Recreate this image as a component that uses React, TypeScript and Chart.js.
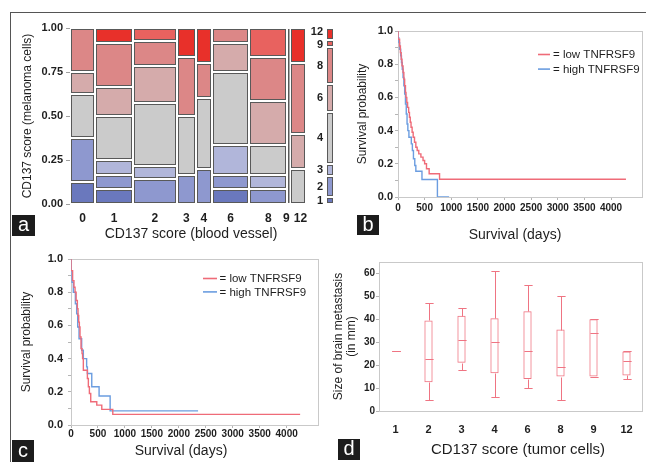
import React, { useEffect, useRef } from "react";
import { Chart, registerables } from "chart.js";

Chart.register(...registerables);

const FONT = "'Liberation Sans', Arial, Helvetica, sans-serif";
const INK = "#1e1e1e";
const W = 646;
const H = 462;

// ---------------- Panel a : mosaic ----------------
const vesselScores = ["0", "1", "2", "3", "4", "6", "8", "9", "12"];
const melanomaScores = ["1", "2", "3", "4", "6", "8", "9", "12"];
// counts of melanoma-cell score per blood-vessel score column
const melScore1 = [1, 1, 0, 0, 0, 1, 0, 0, 0];
const melScore2 = [2, 1, 2, 1, 1, 1, 1, 0, 0];
const melScore3 = [0, 1, 1, 0, 0, 2, 1, 0, 0];
const melScore4 = [2, 3, 5, 2, 2, 5, 2, 0, 1];
const melScore6 = [1, 2, 3, 0, 0, 2, 3, 0, 1];
const melScore8 = [2, 3, 2, 2, 1, 1, 3, 0, 2];
const melScore9 = [0, 0, 1, 0, 0, 0, 2, 0, 0];
const melScore12 = [0, 1, 0, 1, 1, 0, 0, 1, 1];
const mosaicYTicks = [0, 0.25, 0.5, 0.75, 1];

// ---------------- Panels b, c : Kaplan-Meier ----------------
const bLowDays = [0, 30, 45, 60, 75, 95, 110, 125, 140, 150, 165, 180, 200, 215, 230, 245, 265, 285, 310, 335, 360, 390, 430, 470, 500, 535, 585, 780, 1620, 4280];
const bLowSurv = [1, 0.95, 0.91, 0.87, 0.83, 0.79, 0.75, 0.71, 0.67, 0.63, 0.6, 0.57, 0.54, 0.51, 0.48, 0.45, 0.42, 0.39, 0.36, 0.33, 0.3, 0.28, 0.26, 0.24, 0.22, 0.2, 0.17, 0.14, 0.107, 0.107];
const bHighDays = [0, 15, 30, 50, 65, 80, 95, 110, 125, 140, 155, 170, 185, 205, 250, 270, 290, 315, 335, 450, 740, 960];
const bHighSurv = [1, 0.96, 0.93, 0.89, 0.85, 0.81, 0.77, 0.72, 0.67, 0.62, 0.56, 0.5, 0.44, 0.4, 0.36, 0.32, 0.28, 0.23, 0.19, 0.155, 0.105, 0];

const cLowDays = [0, 30, 55, 75, 95, 118, 130, 143, 155, 167, 186, 205, 215, 229, 304, 322, 341, 366, 478, 571, 775, 943, 4250];
const cLowSurv = [1, 0.93, 0.87, 0.83, 0.8, 0.75, 0.7, 0.66, 0.62, 0.59, 0.53, 0.46, 0.43, 0.4, 0.33, 0.28, 0.23, 0.19, 0.14, 0.12, 0.094, 0.064, 0.064];
const cHighDays = [0, 19, 43, 81, 105, 124, 149, 198, 229, 290, 304, 385, 521, 726, 1625, 2357];
const cHighSurv = [1, 0.93, 0.86, 0.8, 0.73, 0.67, 0.59, 0.52, 0.45, 0.4, 0.35, 0.31, 0.23, 0.175, 0.085, 0.085];

const survXTicks = [0, 500, 1000, 1500, 2000, 2500, 3000, 3500, 4000];
const survYTicks = [0, 0.1, 0.2, 0.3, 0.4, 0.5, 0.6, 0.7, 0.8, 0.9, 1];

// ---------------- Panel d : box plot ----------------
const tumorScores = ["1", "2", "3", "4", "6", "8", "9", "12"];
const sizeMin = [26, 5, 18, 6, 10, 5, 15, 14];
const sizeQ1 = [26, 12.5, 21, 16.5, 14, 15, 15, 15.5];
const sizeMedian = [26, 22.5, 31, 30, 26, 19, 34, 22];
const sizeQ3 = [26, 39.5, 41.5, 40.5, 43.5, 35.5, 40, 26];
const sizeMax = [26, 47, 45, 61, 55, 50, 40, 26];
const sizeYTicks = [0, 5, 10, 15, 20, 25, 30, 35, 40, 45, 50, 55, 60, 65];

// ---------------- styles ----------------
const levelColors = ["#6a78bd", "#8e98cf", "#b1b6da", "#cbcbcb", "#d5abab", "#dc8787", "#e8625f", "#e8302a"];
const RED = "#ef6b78";
const BLUE = "#6b9de0";
const BOX = "#ef7482";

const melSeries = [melScore1, melScore2, melScore3, melScore4, melScore6, melScore8, melScore9, melScore12];
const colTotals = vesselScores.map((_, j) => melSeries.reduce((s, a) => s + a[j], 0));
const grandTotal = colTotals.reduce((s, v) => s + v, 0);

const tickFont = (size: number, weight: any = "bold") => ({ family: FONT, size, weight });

// push apart values closer than minGap (keeps order)
function spread(vals: number[], minGap: number) {
  const pos = vals.slice();
  for (let it = 0; it < 30; it++) {
    for (let k = 1; k < pos.length; k++) {
      const d = Math.abs(pos[k] - pos[k - 1]);
      if (d < minGap) {
        const push = (minGap - d) / 2;
        const dir = pos[k] >= pos[k - 1] ? 1 : -1;
        pos[k - 1] -= push * dir;
        pos[k] += push * dir;
      }
    }
  }
  return pos;
}

const mosaicPlugin = {
  id: "mosaic",
  beforeDatasetsDraw(chart: any) {
    const { ctx, chartArea, scales } = chart;
    const x = scales.x;
    const y = scales.y;
    ctx.save();
    ctx.lineWidth = 1;
    ctx.strokeStyle = "#595959";
    let cum = 0;
    colTotals.forEach((n, j) => {
      const xl = Math.round(x.getPixelForValue(cum)) + 1;
      const xr = Math.round(x.getPixelForValue(cum + n)) - 1;
      let f = 0;
      melSeries.forEach((arr, k) => {
        const c = arr[j];
        if (!c) return;
        const f1 = f + c / n;
        const yb = Math.round(y.getPixelForValue(f)) - 1;
        const yt = Math.round(y.getPixelForValue(f1)) + 1;
        ctx.fillStyle = levelColors[k];
        ctx.fillRect(xl, yt, xr - xl, yb - yt);
        ctx.strokeRect(xl + 0.5, yt + 0.5, Math.max(xr - xl - 1, 0.5), yb - yt - 1);
        f = f1;
      });
      cum += n;
    });
    // marginal distribution bar on the right
    const bx0 = Math.round(chartArea.right) + 21;
    const bx1 = bx0 + 6;
    const levelTotals = melSeries.map((a) => a.reduce((s, v) => s + v, 0));
    let f = 0;
    const mids: number[] = [];
    levelTotals.forEach((c, k) => {
      const f1 = f + c / grandTotal;
      const yb = Math.round(y.getPixelForValue(f)) - 1;
      const yt = Math.round(y.getPixelForValue(f1)) + 1;
      ctx.fillStyle = levelColors[k];
      ctx.fillRect(bx0, yt, bx1 - bx0, yb - yt);
      ctx.strokeRect(bx0 + 0.5, yt + 0.5, bx1 - bx0 - 1, yb - yt - 1);
      mids.push((yb + yt) / 2);
      f = f1;
    });
    const pos = spread(mids, 13);
    ctx.fillStyle = INK;
    ctx.font = `bold 11px ${FONT}`;
    ctx.textAlign = "right";
    ctx.textBaseline = "middle";
    melanomaScores.forEach((lab, k) => ctx.fillText(lab, bx0 - 4, pos[k]));
    ctx.restore();
  },
};

const frameBox = {
  id: "frameBox",
  beforeDatasetsDraw(chart: any, _a: any, opts: any) {
    if (!opts || !opts.color) return;
    const { ctx, chartArea: a } = chart;
    ctx.save();
    ctx.strokeStyle = opts.color;
    ctx.lineWidth = 1;
    ctx.strokeRect(Math.round(a.left) + 0.5, Math.round(a.top) + 0.5, Math.round(a.right - a.left) - 1, Math.round(a.bottom - a.top));
    ctx.restore();
  },
};

const axisText = {
  id: "axisText",
  afterDraw(chart: any, _a: any, opts: any) {
    if (!opts || !opts.text) return;
    const { ctx } = chart;
    ctx.save();
    ctx.fillStyle = INK;
    ctx.font = `${opts.size}px ${FONT}`;
    ctx.textAlign = "center";
    ctx.textBaseline = "middle";
    ctx.fillText(opts.text, opts.x, opts.y);
    ctx.restore();
  },
};

const kmLegend = {
  id: "kmLegend",
  afterDatasetsDraw(chart: any, _a: any, opts: any) {
    if (!opts || opts.x === undefined) return;
    const { ctx } = chart;
    ctx.save();
    chart.data.datasets.forEach((ds: any, i: number) => {
      const y = opts.y + i * opts.dy;
      ctx.strokeStyle = ds.borderColor;
      ctx.lineWidth = 1.6;
      ctx.beginPath();
      ctx.moveTo(opts.x, y);
      ctx.lineTo(opts.x + opts.len, y);
      ctx.stroke();
      ctx.fillStyle = INK;
      ctx.font = `${opts.size}px ${FONT}`;
      ctx.textAlign = "left";
      ctx.textBaseline = "middle";
      ctx.fillText("= " + ds.label, opts.x + opts.len + opts.gap, y + 0.5);
    });
    ctx.restore();
  },
};

const boxWhiskers = {
  id: "boxWhiskers",
  afterDatasetsDraw(chart: any) {
    const { ctx } = chart;
    const y = chart.scales.y;
    const meta = chart.getDatasetMeta(0);
    const py = (v: number) => Math.round(y.getPixelForValue(v)) + 0.5;
    ctx.save();
    ctx.strokeStyle = BOX;
    ctx.lineWidth = 1;
    meta.data.forEach((bar: any, i: number) => {
      const { x, width } = bar.getProps(["x", "width"], true);
      const cx = Math.round(x) + 0.5;
      const h = width / 2;
      const line = (x0: number, y0: number, x1: number, y1: number) => {
        ctx.beginPath();
        ctx.moveTo(x0, y0);
        ctx.lineTo(x1, y1);
        ctx.stroke();
      };
      line(cx, py(sizeMax[i]), cx, py(sizeQ3[i]));
      line(cx, py(sizeQ1[i]), cx, py(sizeMin[i]));
      line(cx - h, py(sizeMax[i]), cx + h, py(sizeMax[i]));
      line(cx - h, py(sizeMin[i]), cx + h, py(sizeMin[i]));
      line(cx - h, py(sizeMedian[i]), cx + h, py(sizeMedian[i]));
    });
    ctx.restore();
  },
};

function survivalScales(opts: {
  yWidth: number;
  yTitlePad: number;
  yTickPad: number;
  xTickPad: number;
}) {
  return {
    x: {
      type: "linear",
      min: 0,
      max: 4600,
      afterBuildTicks: (s: any) => {
        s.ticks = survXTicks.map((v) => ({ value: v }));
      },
      afterFit: (s: any) => {
        s.height = 30;
      },
      grid: { drawOnChartArea: false, tickLength: 3, color: "#b5b5b5" },
      border: { display: false },
      ticks: {
        padding: opts.xTickPad,
        font: tickFont(10),
        color: INK,
        maxRotation: 0,
        autoSkip: false,
        callback: (v: number) => String(v),
      },
    },
    y: {
      min: 0,
      max: 1,
      afterBuildTicks: (s: any) => {
        s.ticks = survYTicks.map((v) => ({ value: v }));
      },
      afterFit: (s: any) => {
        s.width = opts.yWidth;
      },
      grid: { drawOnChartArea: false, tickLength: 3, color: "#b5b5b5" },
      border: { display: false },
      ticks: {
        padding: opts.yTickPad,
        font: tickFont(11),
        color: INK,
        callback: (v: number) => (Math.round(v * 10) % 2 === 0 ? Number(v).toFixed(1) : ""),
      },
      title: {
        display: true,
        text: "Survival probability",
        font: { family: FONT, size: 12 },
        color: INK,
        padding: { top: opts.yTitlePad, bottom: 0 },
      },
    },
  };
}

function kmDatasets(lowD: number[], lowS: number[], highD: number[], highS: number[]) {
  return [
    {
      label: "low TNFRSF9",
      data: lowD.map((d, i) => ({ x: d, y: lowS[i] })),
      borderColor: RED,
      borderWidth: 1.4,
      pointRadius: 0,
      stepped: "after",
      fill: false,
    },
    {
      label: "high TNFRSF9",
      data: highD.map((d, i) => ({ x: d, y: highS[i] })),
      borderColor: BLUE,
      borderWidth: 1.4,
      pointRadius: 0,
      stepped: "after",
      fill: false,
    },
  ];
}

const common = {
  responsive: false,
  animation: false,
  devicePixelRatio: 1,
  events: [],
};

export default function App() {
  const aRef = useRef<HTMLCanvasElement>(null);
  const bRef = useRef<HTMLCanvasElement>(null);
  const cRef = useRef<HTMLCanvasElement>(null);
  const dRef = useRef<HTMLCanvasElement>(null);

  useEffect(() => {
    const charts: Chart[] = [];

    // ---- a ----
    charts.push(
      new Chart(aRef.current as HTMLCanvasElement, {
        type: "scatter",
        data: { datasets: [] },
        options: {
          ...common,
          layout: { padding: { left: 15, top: 28, right: W - 306, bottom: H - 240 } },
          plugins: {
            legend: { display: false },
            tooltip: { enabled: false },
            axisText: { text: "CD137 score (blood vessel)", x: 191, y: 234, size: 14 },
          },
          scales: {
            x: {
              type: "linear",
              min: 0,
              max: grandTotal,
              afterBuildTicks: (s: any) => {
                let cum = 0;
                const centers = colTotals.map((n) => {
                  const v = cum + n / 2;
                  cum += n;
                  return v;
                });
                s.ticks = spread(centers, 4.5).map((v) => ({ value: v }));
              },
              afterFit: (s: any) => {
                s.height = 36;
              },
              grid: { display: false, drawTicks: false },
              border: { display: false },
              ticks: {
                autoSkip: false,
                maxRotation: 0,
                padding: 7,
                font: tickFont(12),
                color: INK,
                callback: (_v: any, i: number) => vesselScores[i],
              },
            },
            y: {
              min: 0,
              max: 1,
              afterBuildTicks: (s: any) => {
                s.ticks = mosaicYTicks.map((v) => ({ value: v }));
              },
              afterFit: (s: any) => {
                s.width = 55;
              },
              grid: { drawOnChartArea: false, tickLength: 4, color: "#a0a0a0" },
              border: { display: false },
              ticks: { padding: 3, font: tickFont(11), color: INK, callback: (v: number) => Number(v).toFixed(2) },
              title: {
                display: true,
                text: "CD137 score (melanoma cells)",
                font: { family: FONT, size: 12 },
                color: INK,
                padding: { top: 5, bottom: 0 },
              },
            },
          },
        } as any,
        plugins: [mosaicPlugin, axisText],
      })
    );

    // ---- b ----
    charts.push(
      new Chart(bRef.current as HTMLCanvasElement, {
        type: "line",
        data: { datasets: kmDatasets(bLowDays, bLowSurv, bHighDays, bHighSurv) as any },
        options: {
          ...common,
          layout: { padding: { left: 350, top: 31, right: 3, bottom: H - 197 - 30 } },
          plugins: {
            legend: { display: false },
            tooltip: { enabled: false },
            frameBox: { color: "#c9c9c9" },
            kmLegend: { x: 538, y: 54.5, dy: 14.6, len: 12, gap: 3, size: 11.5 },
            axisText: { text: "Survival (days)", x: 515, y: 235, size: 14 },
          },
          scales: survivalScales({ yWidth: 48, yTitlePad: 5.5, yTickPad: 2, xTickPad: 2 }) as any,
        } as any,
        plugins: [frameBox, kmLegend, axisText],
      })
    );

    // ---- c ----
    charts.push(
      new Chart(cRef.current as HTMLCanvasElement, {
        type: "line",
        data: { datasets: kmDatasets(cLowDays, cLowSurv, cHighDays, cHighSurv) as any },
        options: {
          ...common,
          layout: { padding: { left: 14, top: 259, right: W - 319, bottom: H - 425 - 30 } },
          plugins: {
            legend: { display: false },
            tooltip: { enabled: false },
            frameBox: { color: "#c9c9c9" },
            kmLegend: { x: 203, y: 278.5, dy: 13.4, len: 14, gap: 2.5, size: 11.5 },
            axisText: { text: "Survival (days)", x: 181, y: 451.5, size: 14 },
          },
          scales: survivalScales({ yWidth: 57, yTitlePad: 5.5, yTickPad: 5, xTickPad: 0 }) as any,
        } as any,
        plugins: [frameBox, kmLegend, axisText],
      })
    );

    // ---- d ----
    charts.push(
      new Chart(dRef.current as HTMLCanvasElement, {
        type: "bar",
        data: {
          labels: tumorScores,
          datasets: [
            {
              label: "Size of brain metastasis",
              data: sizeQ1.map((q, i) => [q, sizeQ3[i]]),
              backgroundColor: "rgba(0,0,0,0)",
              borderColor: BOX,
              borderWidth: 1,
              borderSkipped: false,
              barPercentage: 0.25,
              categoryPercentage: 1,
            } as any,
          ],
        },
        options: {
          ...common,
          layout: { padding: { left: 328, top: 262, right: 3, bottom: H - 411 - 30 } },
          plugins: {
            legend: { display: false },
            tooltip: { enabled: false },
            frameBox: { color: "#c9c9c9" },
            axisText: { text: "CD137 score (tumor cells)", x: 518, y: 450, size: 15 },
          },
          scales: {
            x: {
              afterFit: (s: any) => {
                s.height = 30;
              },
              grid: { display: false, drawTicks: false },
              border: { display: false },
              ticks: { padding: 12, font: tickFont(11), color: INK, maxRotation: 0, autoSkip: false },
            },
            y: {
              min: 0,
              max: 65,
              afterBuildTicks: (s: any) => {
                s.ticks = sizeYTicks.map((v) => ({ value: v }));
              },
              afterFit: (s: any) => {
                s.width = 51;
              },
              grid: { drawOnChartArea: false, tickLength: 3, color: "#b5b5b5" },
              border: { display: false },
              ticks: {
                padding: 1,
                font: tickFont(10),
                color: INK,
                callback: (v: number) => (v % 10 === 0 ? String(v) : ""),
              },
              title: {
                display: true,
                text: ["Size of brain metastasis", "(in mm)"],
                font: { family: FONT, size: 12, lineHeight: 1.12 },
                color: INK,
                padding: { top: 3.6, bottom: 0 },
              },
            },
          },
        } as any,
        plugins: [frameBox, boxWhiskers, axisText],
      })
    );

    return () => charts.forEach((c) => c.destroy());
  }, []);

  const canvasStyle: React.CSSProperties = { position: "absolute", left: 0, top: 0 };
  const tag = (letter: string, left: number, top: number, w: number, h: number) => (
    <div
      style={{
        position: "absolute",
        left,
        top,
        width: w,
        height: h,
        background: "#1c1c1c",
        color: "#fff",
        fontFamily: FONT,
        fontSize: 20,
        lineHeight: `${h - 2}px`,
        textAlign: "center",
      }}
    >
      {letter}
    </div>
  );

  return (
    <div
      style={{
        position: "fixed",
        left: 0,
        top: 0,
        width: W,
        height: H,
        background: "#fff",
        overflow: "hidden",
      }}
    >
      <div
        style={{
          position: "absolute",
          left: 10,
          top: 12,
          width: W,
          height: H,
          borderTop: "1px solid #555",
          borderLeft: "1px solid #555",
        }}
      />
      <canvas ref={aRef} width={W} height={H} style={canvasStyle} />
      <canvas ref={bRef} width={W} height={H} style={canvasStyle} />
      <canvas ref={cRef} width={W} height={H} style={canvasStyle} />
      <canvas ref={dRef} width={W} height={H} style={canvasStyle} />
      {tag("a", 12, 215, 23, 21)}
      {tag("b", 357, 215, 22, 20)}
      {tag("c", 12, 440, 22, 22)}
      {tag("d", 338, 439, 22, 21)}
    </div>
  );
}
